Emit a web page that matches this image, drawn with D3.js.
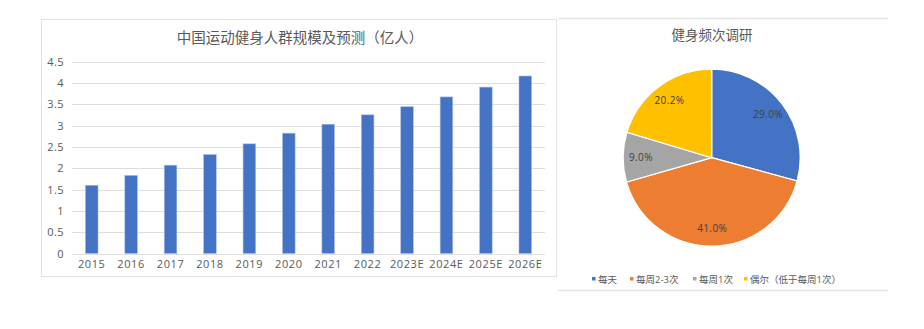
<!DOCTYPE html>
<html>
<head>
<meta charset="utf-8">
<script src="https://cdn.jsdelivr.net/npm/d3@7"></script>
<style>
  body { margin: 0; background: #fff; }
  svg text { font-family: "Open Sans", "Noto Sans CJK SC", sans-serif; }
</style>
</head>
<body>
<svg id="chart" width="924" height="329"></svg>
<script>
// bar chart data
var years = ["2015", "2016", "2017", "2018", "2019", "2020", "2021", "2022", "2023E", "2024E", "2025E", "2026E"];
var people = [1.6, 1.83, 2.07, 2.32, 2.57, 2.82, 3.03, 3.25, 3.44, 3.67, 3.9, 4.16];
var yTicks = [0, 0.5, 1, 1.5, 2, 2.5, 3, 3.5, 4, 4.5];

// pie data
var freqNames = ["每天", "每周2-3次", "每周1次", "偶尔（低于每周1次）"];
var freqShares = [29.0, 41.0, 9.0, 20.2];
var freqColors = ["#4472C4", "#ED7D31", "#A5A5A5", "#FFC000"];

var svg = d3.select("#chart");

////////// bar chart //////////
svg.append("rect")
  .attr("x", 41.5).attr("y", 19.5)
  .attr("width", 515).attr("height", 257)
  .attr("fill", "none")
  .attr("stroke", "#e3e3e3");

svg.append("text")
  .attr("x", 300).attr("y", 43)
  .attr("text-anchor", "middle")
  .attr("font-size", 14.5)
  .attr("fill", "#595959")
  .text("中国运动健身人群规模及预测（亿人）");

var x = d3.scaleBand()
  .domain(years)
  .range([72, 545])
  .paddingInner(0.68)
  .paddingOuter(0.34);

var y = d3.scaleLinear()
  .domain([0, 4.5])
  .range([253.5, 61.5]);

var g = svg.append("g");

g.selectAll("line.grid")
  .data(yTicks)
  .enter().append("line")
  .attr("class", "grid")
  .attr("x1", 72).attr("x2", 545)
  .attr("y1", function(d) { return Math.round(y(d)) + 0.5; })
  .attr("y2", function(d) { return Math.round(y(d)) + 0.5; })
  .attr("stroke", "#dedede");

g.selectAll("text.ytick")
  .data(yTicks)
  .enter().append("text")
  .attr("class", "ytick")
  .attr("x", 64)
  .attr("y", function(d) { return y(d) + 4; })
  .attr("text-anchor", "end")
  .attr("font-size", 11)
  .attr("letter-spacing", 0.4)
  .attr("fill", "#595959")
  .text(function(d) { return d; });

g.selectAll("rect.bar")
  .data(people)
  .enter().append("rect")
  .attr("class", "bar")
  .attr("x", function(d, i) { return x(years[i]); })
  .attr("width", x.bandwidth())
  .attr("y", function(d) { return y(d); })
  .attr("height", function(d) { return y(0) - y(d); })
  .attr("fill", "#4472C4")
  .attr("stroke", "#a9bfe6")
  .attr("stroke-width", 0.6);

g.selectAll("text.xtick")
  .data(years)
  .enter().append("text")
  .attr("class", "xtick")
  .attr("x", function(d) { return x(d) + x.bandwidth() / 2; })
  .attr("y", 268)
  .attr("text-anchor", "middle")
  .attr("font-size", 11)
  .attr("letter-spacing", 0.6)
  .attr("fill", "#595959")
  .text(function(d) { return d; });

////////// pie chart //////////
svg.append("line")
  .attr("x1", 558).attr("x2", 888)
  .attr("y1", 18.5).attr("y2", 18.5)
  .attr("stroke", "#e6e6e6").attr("stroke-width", 1.5);
svg.append("line")
  .attr("x1", 558).attr("x2", 888)
  .attr("y1", 290.5).attr("y2", 290.5)
  .attr("stroke", "#e6e6e6").attr("stroke-width", 1.5);

svg.append("text")
  .attr("x", 712).attr("y", 40)
  .attr("text-anchor", "middle")
  .attr("font-size", 13.5)
  .attr("fill", "#595959")
  .text("健身频次调研");

var cx = 711.7, cy = 157.7, r = 88.5;

var pie = d3.pie().sort(null).value(function(d) { return d; });
var arc = d3.arc().innerRadius(0).outerRadius(r);
var labelArc = d3.arc().innerRadius(r * 0.8).outerRadius(r * 0.8);

var pg = svg.append("g").attr("transform", "translate(" + cx + "," + cy + ")");

var slices = pie(freqShares);

pg.selectAll("path")
  .data(slices)
  .enter().append("path")
  .attr("d", arc)
  .attr("fill", function(d, i) { return freqColors[i]; })
  .attr("stroke", "#fff")
  .attr("stroke-width", 1.2);

pg.selectAll("text")
  .data(slices)
  .enter().append("text")
  .attr("transform", function(d) { return "translate(" + labelArc.centroid(d) + ")"; })
  .attr("dy", "0.35em")
  .attr("text-anchor", "middle")
  .attr("font-size", 10)
  .attr("letter-spacing", 0.4)
  .attr("fill", "#404040")
  .text(function(d) { return d.data.toFixed(1) + "%"; });

// legend
var legendX = [592, 630, 693, 744];
var lg = svg.append("g");
freqNames.forEach(function(name, i) {
  lg.append("rect")
    .attr("x", legendX[i]).attr("y", 277)
    .attr("width", 3.5).attr("height", 3.5)
    .attr("fill", freqColors[i]);
  lg.append("text")
    .attr("x", legendX[i] + 6).attr("y", 282.5)
    .attr("font-size", 9.5)
    .attr("fill", "#595959")
    .text(name);
});
</script>
</body>
</html>
